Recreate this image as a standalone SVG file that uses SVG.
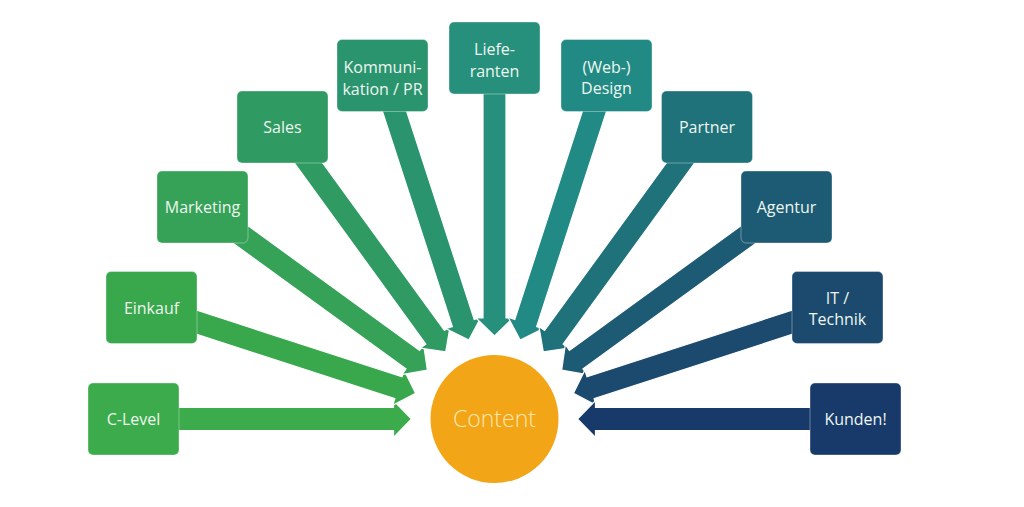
<svg xmlns="http://www.w3.org/2000/svg" width="1024" height="507" viewBox="0 0 1024 507">
<style>
.box{stroke:#ffffff;stroke-opacity:0.35;stroke-width:1}
.arr{stroke:#ffffff;stroke-width:1.2;stroke-linejoin:miter}
.lbl{font-family:"Open Sans","Liberation Sans",sans-serif;font-size:16px;fill:#eef6f0;text-anchor:middle}
.ctr{font-family:"Open Sans","Liberation Sans",sans-serif;font-size:23px;font-weight:300;fill:#fde7b0;text-anchor:middle}
</style>
<defs>
<polygon id="a" points="-361,-11.5 -101,-11.5 -101,-18.5 -83,0 -101,18.5 -101,11.5 -361,11.5"/>
</defs>
<rect width="1024" height="507" fill="#ffffff"/>
<g id="connectors">
<use href="#a" class="arr" fill="#3cab4b" transform="translate(494.5,419) rotate(0)"/>
<use href="#a" class="arr" fill="#39a84d" transform="translate(494.5,419) rotate(18)"/>
<use href="#a" class="arr" fill="#35a257" transform="translate(494.5,419) rotate(36)"/>
<use href="#a" class="arr" fill="#2f9a62" transform="translate(494.5,419) rotate(54)"/>
<use href="#a" class="arr" fill="#2a946f" transform="translate(494.5,419) rotate(72)"/>
<use href="#a" class="arr" fill="#26907c" transform="translate(494.5,419) rotate(90)"/>
<use href="#a" class="arr" fill="#228a84" transform="translate(494.5,419) rotate(108)"/>
<use href="#a" class="arr" fill="#1f717a" transform="translate(494.5,419) rotate(126)"/>
<use href="#a" class="arr" fill="#1d5b74" transform="translate(494.5,419) rotate(144)"/>
<use href="#a" class="arr" fill="#1b4a6e" transform="translate(494.5,419) rotate(162)"/>
<use href="#a" class="arr" fill="#183a6a" transform="translate(494.5,419) rotate(180)"/>
</g>
<g id="content">
<circle cx="494.5" cy="419" r="64" fill="#f2a516"/>
<text class="ctr" x="494.5" y="427">Content</text>
</g>
<g id="c-level"><rect class="box" x="88" y="383" width="91" height="72" rx="5" fill="#3cab4b"/><text class="lbl" x="133.5" y="425">C-Level</text></g>
<g id="einkauf"><rect class="box" x="106" y="271.5" width="91" height="72" rx="5" fill="#39a84d"/><text class="lbl" x="151.5" y="313.5">Einkauf</text></g>
<g id="marketing"><rect class="box" x="157" y="171" width="91" height="72" rx="5" fill="#35a257"/><text class="lbl" x="202.5" y="213">Marketing</text></g>
<g id="sales"><rect class="box" x="237" y="91" width="91" height="72" rx="5" fill="#2f9a62"/><text class="lbl" x="282.5" y="133">Sales</text></g>
<g id="kommunikation"><rect class="box" x="337" y="39.5" width="91" height="72" rx="5" fill="#2a946f"/><text class="lbl" x="382.5" y="72.5">Kommuni-</text><text class="lbl" x="382.5" y="94.5">kation / PR</text></g>
<g id="lieferanten"><rect class="box" x="449" y="22" width="91" height="72" rx="5" fill="#26907c"/><text class="lbl" x="494.5" y="55">Liefe-</text><text class="lbl" x="494.5" y="76.5">ranten</text></g>
<g id="webdesign"><rect class="box" x="561" y="39.5" width="91" height="72" rx="5" fill="#228a84"/><text class="lbl" x="606.5" y="72.5">(Web-)</text><text class="lbl" x="606.5" y="94">Design</text></g>
<g id="partner"><rect class="box" x="661.5" y="91" width="91" height="72" rx="5" fill="#1f717a"/><text class="lbl" x="707" y="133">Partner</text></g>
<g id="agentur"><rect class="box" x="741" y="171" width="91" height="72" rx="5" fill="#1d5b74"/><text class="lbl" x="786.5" y="213">Agentur</text></g>
<g id="it-technik"><rect class="box" x="792" y="271.5" width="91" height="72" rx="5" fill="#1b4a6e"/><text class="lbl" x="837.5" y="304">IT /</text><text class="lbl" x="837.5" y="324.5">Technik</text></g>
<g id="kunden"><rect class="box" x="810" y="383" width="91" height="72" rx="5" fill="#183a6a"/><text class="lbl" x="855.5" y="425">Kunden!</text></g>
</svg>
